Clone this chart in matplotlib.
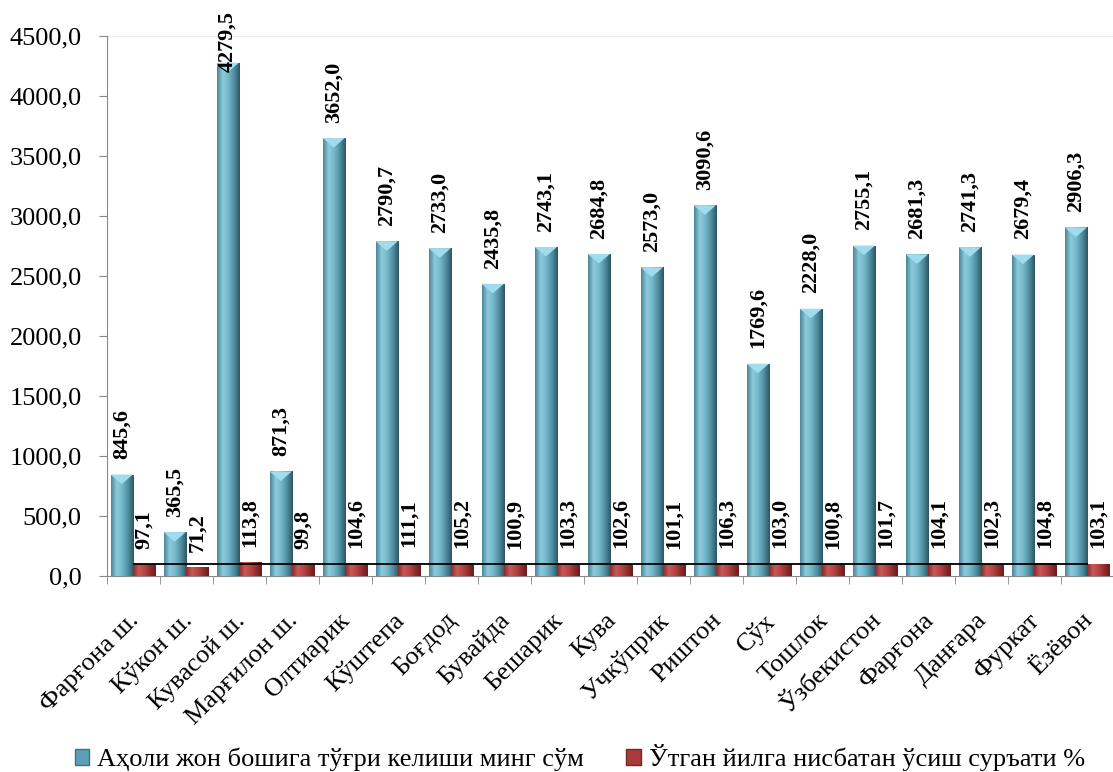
import numpy as np
import matplotlib
matplotlib.use('Agg')
import matplotlib.pyplot as plt
import matplotlib.transforms as mtransforms
from matplotlib.colors import LinearSegmentedColormap
from matplotlib.patches import Patch

plt.rcParams['font.family'] = ['Liberation Serif', 'DejaVu Serif']

# Data
districts = ['Фарғона ш.', 'Кўкон ш.', 'Кувасой ш.', 'Марғилон ш.', 'Олтиарик',
             'Кўштепа', 'Боғдод', 'Бувайда', 'Бешарик', 'Кува', 'Учкўприк',
             'Риштон', 'Сўх', 'Тошлок', 'Ўзбекистон', 'Фарғона', 'Данғара',
             'Фуркат', 'Ёзёвон']
per_capita = [845.6, 365.5, 4279.5, 871.3, 3652.0, 2790.7, 2733.0, 2435.8, 2743.1,
              2684.8, 2573.0, 3090.6, 1769.6, 2228.0, 2755.1, 2681.3, 2741.3,
              2679.4, 2906.3]
growth = [97.1, 71.2, 113.8, 99.8, 104.6, 111.1, 105.2, 100.9, 103.3, 102.6,
          101.1, 106.3, 103.0, 100.8, 101.7, 104.1, 102.3, 104.8, 103.1]
ref_level = 100
y_ticks = np.arange(0, 4501, 500)

label_blue = 'Аҳоли жон бошига тўғри келиши минг сўм'
label_red = 'Ўтган йилга нисбатан ўсиш суръати %'

blue_cmap = LinearSegmentedColormap.from_list(
    'b', ['#4b8799', '#8ccbdd', '#74b6c9', '#4f8ea1', '#2e5663'])
red_cmap = LinearSegmentedColormap.from_list(
    'r', ['#8a2c2c', '#c85858', '#b84444', '#922f2f', '#6a1c1c'])


def fmt(v):
    return f'{v:.1f}'.replace('.', ',')


fig = plt.figure(figsize=(11.13, 7.72), dpi=100)
ax = fig.add_axes([0.096, 0.254, 0.905, 0.699])

x = np.arange(len(districts))
w = 0.42
bars_b = ax.bar(x - 0.22, per_capita, w, color='#6aaec2', zorder=2)
bars_r = ax.bar(x + 0.2, growth, w, color='#b04040', zorder=2)

grad = np.linspace(0, 1, 64).reshape(1, -1)
for bars, cmap in ((bars_b, blue_cmap), (bars_r, red_cmap)):
    for b in bars:
        x0, y0 = b.get_x(), b.get_y()
        im = ax.imshow(grad, cmap=cmap, aspect='auto', zorder=3,
                       extent=[x0, x0 + b.get_width(), y0, y0 + b.get_height()])
        im.set_clip_path(b)

# light pyramid cap on the blue bars
cap = 80
for b in bars_b:
    x0, top, bw = b.get_x(), b.get_height(), b.get_width()
    ax.fill([x0, x0 + bw, x0 + bw / 2], [top, top, top - cap],
            color='#9fdcee', zorder=4, lw=0)

ax.hlines(ref_level, 0, len(districts) - 1, color='black', lw=1.3, zorder=5)

for b, v in zip(bars_b, per_capita):
    off = 11 if v < 4100 else -7
    ax.annotate(fmt(v), (b.get_x() + b.get_width() / 2, v), xytext=(0, off),
                textcoords='offset points', rotation=90, ha='center',
                va='bottom', fontsize=16, fontweight='bold', zorder=6,
                annotation_clip=False)
for b, v in zip(bars_r, growth):
    ax.annotate(fmt(v), (b.get_x() + b.get_width() / 2, v), xytext=(0, 11),
                textcoords='offset points', rotation=90, ha='center',
                va='bottom', fontsize=16, fontweight='bold', zorder=6)

ax.set_xlim(-0.5, len(districts) - 0.5)
ax.set_ylim(0, 4500)
ax.set_yticks(y_ticks)
ax.set_yticklabels([fmt(t) for t in y_ticks], fontsize=19)
ax.set_xticks(x)
ax.set_xticklabels(districts, fontsize=19, rotation=45, ha='right',
                   rotation_mode='anchor')
ax.set_xticks(np.arange(-0.5, len(districts)), minor=True)
ax.tick_params(axis='x', which='major', length=0, pad=24)
ax.tick_params(axis='x', which='minor', length=6, color='#888888')
ax.tick_params(axis='y', length=6, color='#888888', pad=12)

shift = mtransforms.ScaledTranslation(-6 / 100, 0, fig.dpi_scale_trans)
for lab in ax.get_xticklabels():
    lab.set_transform(lab.get_transform() + shift)

for s in ('top', 'right'):
    ax.spines[s].set_visible(False)
ax.spines['left'].set_color('#888888')
ax.spines['bottom'].set_color('#888888')
ax.axhline(4500, color='#eeeeee', lw=1, zorder=1)

handles = [Patch(facecolor='#5d9fb3', edgecolor='#3e7385'),
           Patch(facecolor='#a83c3c', edgecolor='#7a2424')]
fig.legend(handles, [label_blue, label_red], loc='lower center',
           bbox_to_anchor=(0.521, -0.03), ncol=2, frameon=False, fontsize=19,
           handlelength=0.55, handleheight=0.55, handletextpad=0.3,
           columnspacing=1.6)

fig.savefig('out.png', dpi=100)
